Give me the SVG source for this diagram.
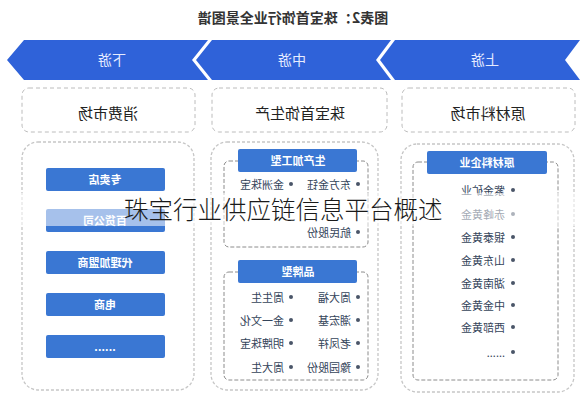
<svg xmlns="http://www.w3.org/2000/svg" width="587" height="400" viewBox="0 0 587 400">
<style>
text{font-family:"Noto Sans CJK SC","Noto Sans",sans-serif}
.band{fill:#2f62d9}
.bt{font-size:14px;fill:#e6ebff;text-anchor:middle;dominant-baseline:central}
.title{font-size:14px;font-weight:bold;fill:#333;text-anchor:middle;dominant-baseline:central}
.hbox{fill:#fff;stroke:#bcbcbc;stroke-dasharray:4 3;stroke-width:1}
.ht{font-size:15px;fill:#222;text-anchor:middle;dominant-baseline:central}
.panel{fill:#fff;stroke:#c6c6c6;stroke-dasharray:3 2;stroke-width:1.3}
.btn{fill:#3a77d3}
.btt{font-size:11px;font-weight:bold;fill:#fff;text-anchor:middle;dominant-baseline:central}
.sub{fill:none;stroke:#8c8c8c;stroke-dasharray:4 2;stroke-width:1}
.it{font-size:11px;fill:#34445a;text-anchor:start;dominant-baseline:central}
.dot{fill:#4a5568}
.ov{font-size:24.5px;font-weight:300;fill:#1a1a1a;dominant-baseline:central}
</style>
<rect width="587" height="400" fill="#fff"/>
<g id="title"><text class="title" transform="translate(293,17) scale(-1,1)">图表2：珠宝首饰行业全景图谱</text></g>
<g id="banner">
<g id="stage-down"><polygon class="band" points="7,60 24,40 208,40 192,60 208,80 24,80"/><text class="bt" transform="translate(112,59) scale(-1,1)">下游</text></g>
<g id="stage-mid"><polygon class="band" points="196,60 212,40 391,40 376,60 391,80 212,80"/><text class="bt" transform="translate(292,59) scale(-1,1)">中游</text></g>
<g id="stage-up"><polygon class="band" points="380,60 395,40 580,40 565,60 580,80 395,80"/><text class="bt" transform="translate(485,59) scale(-1,1)">上游</text></g>
</g>
<g id="hdr-consumer"><rect class="hbox" x="22" y="88" width="173" height="44" rx="7"/><text class="ht" transform="translate(108,112) scale(-1,1)">消费市场</text></g>
<g id="hdr-production"><rect class="hbox" x="212" y="88" width="175" height="44" rx="7"/><text class="ht" transform="translate(300,112) scale(-1,1)">珠宝首饰生产</text></g>
<g id="hdr-raw"><rect class="hbox" x="402" y="88" width="173" height="44" rx="7"/><text class="ht" transform="translate(488,112) scale(-1,1)">原材料市场</text></g>
<g id="panel-consumer">
<rect class="panel" x="22" y="142" width="172" height="248" rx="16"/>
<rect class="btn" x="46" y="168" width="119" height="23" rx="2"/><text class="btt" transform="translate(105,179) scale(-1,1)">专卖店</text>
<rect class="btn" x="46" y="209" width="119" height="23" rx="2"/><text class="btt" transform="translate(105,220) scale(-1,1)">百货公司</text>
<rect class="btn" x="46" y="251" width="119" height="23" rx="2"/><text class="btt" transform="translate(105,262) scale(-1,1)">代理加盟商</text>
<rect class="btn" x="46" y="293" width="119" height="23" rx="2"/><text class="btt" transform="translate(105,304) scale(-1,1)">电商</text>
<rect class="btn" x="46" y="335" width="119" height="23" rx="2"/><text class="btt" transform="translate(105,346) scale(-1,1)">......</text>
</g>
<g id="panel-production">
<rect class="panel" x="211" y="142" width="167" height="248" rx="16"/>
<g id="type-processing">
<rect class="sub" x="224" y="161" width="144" height="86" rx="5"/>
<rect class="btn" x="238" y="149" width="119" height="23" rx="2"/><text class="btt" transform="translate(298,160) scale(-1,1)">生产加工型</text>
<circle class="dot" cx="358" cy="184" r="2"/><text class="it" transform="translate(351,184) scale(-1,1)">东方金钰</text>
<circle class="dot" cx="291" cy="184" r="2"/><text class="it" transform="translate(284,184) scale(-1,1)">金洲珠宝</text>
<circle class="dot" cx="358" cy="232" r="2"/><text class="it" transform="translate(351,232) scale(-1,1)">航民股份</text>
</g>
<g id="type-brand">
<rect class="sub" x="224" y="272" width="144" height="108" rx="5"/>
<rect class="btn" x="238" y="260" width="119" height="23" rx="2"/><text class="btt" transform="translate(298,271) scale(-1,1)">品牌型</text>
<circle class="dot" cx="358" cy="297" r="2"/><text class="it" transform="translate(351,297) scale(-1,1)">周大福</text>
<circle class="dot" cx="291" cy="297" r="2"/><text class="it" transform="translate(284,297) scale(-1,1)">周生生</text>
<circle class="dot" cx="358" cy="320" r="2"/><text class="it" transform="translate(351,320) scale(-1,1)">潮宏基</text>
<circle class="dot" cx="291" cy="320" r="2"/><text class="it" transform="translate(284,320) scale(-1,1)">金一文化</text>
<circle class="dot" cx="358" cy="343" r="2"/><text class="it" transform="translate(351,343) scale(-1,1)">老凤祥</text>
<circle class="dot" cx="291" cy="343" r="2"/><text class="it" transform="translate(284,343) scale(-1,1)">明牌珠宝</text>
<circle class="dot" cx="358" cy="367" r="2"/><text class="it" transform="translate(351,367) scale(-1,1)">豫园股份</text>
<circle class="dot" cx="291" cy="367" r="2"/><text class="it" transform="translate(284,367) scale(-1,1)">周大生</text>
</g>
</g>
<g id="panel-raw">
<rect class="panel" x="401" y="144" width="173" height="248" rx="16"/>
<rect class="sub" x="413" y="162" width="145" height="218" rx="5"/>
<rect class="btn" x="427" y="151" width="120" height="23" rx="2"/><text class="btt" transform="translate(487,162) scale(-1,1)">原材料企业</text>
<circle class="dot" cx="513" cy="190" r="2"/><text class="it" transform="translate(505,190) scale(-1,1)">紫金矿业</text>
<circle class="dot" cx="513" cy="214" r="2"/><text class="it" transform="translate(505,214) scale(-1,1)">赤峰黄金</text>
<circle class="dot" cx="513" cy="237" r="2"/><text class="it" transform="translate(505,237) scale(-1,1)">银泰黄金</text>
<circle class="dot" cx="513" cy="260" r="2"/><text class="it" transform="translate(505,260) scale(-1,1)">山东黄金</text>
<circle class="dot" cx="513" cy="283" r="2"/><text class="it" transform="translate(505,283) scale(-1,1)">湖南黄金</text>
<circle class="dot" cx="513" cy="305" r="2"/><text class="it" transform="translate(505,305) scale(-1,1)">中金黄金</text>
<circle class="dot" cx="513" cy="327" r="2"/><text class="it" transform="translate(505,327) scale(-1,1)">西部黄金</text>
<circle class="dot" cx="513" cy="352" r="2"/><text class="it" transform="translate(505,352) scale(-1,1)">......</text>
</g>
<g id="connectors"/>
<g id="overlay">
<rect x="0" y="193" width="587" height="33" fill="#fff" opacity="0.55"/>
<text class="ov" x="124" y="208">珠宝行业供应链信息平台概述</text>
</g>
</svg>
